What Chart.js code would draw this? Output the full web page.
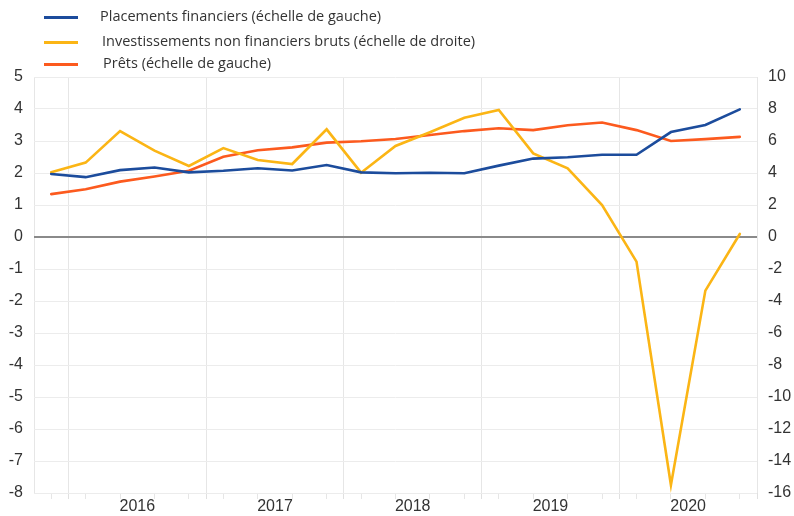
<!DOCTYPE html>
<html>
<head>
<meta charset="utf-8">
<script src="https://cdn.jsdelivr.net/npm/chart.js@4.4.1/dist/chart.umd.min.js"></script>
<style>
  html, body { margin: 0; padding: 0; background: #ffffff; }
  #wrap { position: relative; width: 794px; height: 516px; overflow: hidden; }
  #chart { position: absolute; left: 0; top: 0; }
  #legend { position: absolute; left: 0; top: 0; width: 794px; height: 80px;
            font-family: "Open Sans", "Noto Sans", sans-serif; font-size: 14.5px; color: #333333; }
  .sw { position: absolute; left: 44px; width: 34px; height: 3px; }
  .lt { position: absolute; white-space: nowrap; line-height: 20px; }
</style>
</head>
<body>
<div id="wrap">
  <canvas id="chart" width="794" height="516"></canvas>
  <div id="legend"></div>
</div>
<script>
// ---- Data (quarterly, 2015 Q4 – 2020 Q4) ----
const categories = [
  '2015T4',
  '2016T1', '2016T2', '2016T3', '2016T4',
  '2017T1', '2017T2', '2017T3', '2017T4',
  '2018T1', '2018T2', '2018T3', '2018T4',
  '2019T1', '2019T2', '2019T3', '2019T4',
  '2020T1', '2020T2', '2020T3', '2020T4'
];
// Placements financiers (échelle de gauche)
const placementsFinanciers = [
  1.97, 1.87, 2.09, 2.17, 2.02, 2.07, 2.15, 2.08, 2.25, 2.02, 1.99,
  2.01, 1.99, 2.23, 2.45, 2.49, 2.57, 2.57, 3.28, 3.50, 3.99
];
// Investissements non financiers bruts (échelle de droite)
const investissementsNonFinanciers = [
  4.04, 4.65, 6.62, 5.40, 4.44, 5.56, 4.81, 4.56, 6.73, 4.02, 5.69,
  6.55, 7.45, 7.94, 5.23, 4.29, 2.00, -1.54, -15.5, -3.35, 0.19
];
// Prêts (échelle de gauche)
const prets = [
  1.34, 1.49, 1.73, 1.89, 2.07, 2.51, 2.71, 2.80, 2.95, 2.99, 3.06,
  3.19, 3.31, 3.40, 3.34, 3.49, 3.58, 3.34, 3.00, 3.06, 3.13
];
const seriesLabels = [
  'Placements financiers (échelle de gauche)',
  'Investissements non financiers bruts (échelle de droite)',
  'Prêts (échelle de gauche)'
];
const yearLabels = ['2016', '2017', '2018', '2019', '2020'];
const leftTicks = [-8, -7, -6, -5, -4, -3, -2, -1, 0, 1, 2, 3, 4, 5];
const rightTicks = [-16, -14, -12, -10, -8, -6, -4, -2, 0, 2, 4, 6, 8, 10];

const colors = ['#1c4c9c', '#fbb515', '#fc5a1e'];

// ---- Year axis helpers (positions in category-index units) ----
const firstYearIdx = categories.indexOf('2016T1');
const yearBoundaries = [];
const yearCenters = [];
for (let k = 0; k <= yearLabels.length; k++) yearBoundaries.push(firstYearIdx + 4 * k - 0.5);
for (let k = 0; k < yearLabels.length; k++) yearCenters.push(firstYearIdx + 4 * k + 1.5);
const quarterCenters = categories.map((c, i) => i);
const leftEdge = -0.5;
const isIn = (arr, v) => arr.some(a => Math.abs(a - v) < 1e-6);

const xTickValues = [leftEdge].concat(quarterCenters, yearBoundaries, yearCenters)
  .sort((a, b) => a - b)
  .filter((v, i, a) => i === 0 || Math.abs(v - a[i - 1]) > 1e-6);

const ctx = document.getElementById('chart').getContext('2d');
const tickFont = { family: '"Liberation Sans", Arial, sans-serif', size: 16 };

const chart = new Chart(ctx, {
  type: 'line',
  data: {
    labels: categories,
    datasets: [
      { label: seriesLabels[0], data: placementsFinanciers, yAxisID: 'y', borderColor: colors[0], backgroundColor: colors[0] },
      { label: seriesLabels[1], data: investissementsNonFinanciers, yAxisID: 'y2', borderColor: colors[1], backgroundColor: colors[1] },
      { label: seriesLabels[2], data: prets, yAxisID: 'y', borderColor: colors[2], backgroundColor: colors[2] }
    ]
  },
  options: {
    responsive: false,
    animation: false,
    devicePixelRatio: 1,
    layout: { padding: { top: 77, left: 0, right: 0, bottom: 0 } },
    elements: {
      line: { borderWidth: 2.6, tension: 0, fill: false, borderCapStyle: 'round', borderJoinStyle: 'miter' },
      point: { radius: 0, hoverRadius: 0 }
    },
    plugins: { legend: { display: false }, tooltip: { enabled: false } },
    scales: {
      x: {
        type: 'category',
        display: false,
        offset: true
      },
      xYears: {
        type: 'linear',
        position: 'bottom',
        min: leftEdge,
        max: categories.length - 0.5,
        afterBuildTicks: (scale) => { scale.ticks = xTickValues.map(v => ({ value: v })); },
        afterFit: (scale) => { scale.height = 23; },
        border: { display: false },
        grid: {
          drawOnChartArea: true,
          drawTicks: true,
          tickLength: 6,
          lineWidth: 1,
          color: (c) => {
            const v = c.tick ? c.tick.value : null;
            if (v === null) return 'rgba(0,0,0,0)';
            if (isIn(yearBoundaries, v) || Math.abs(v - leftEdge) < 1e-6) return '#e6e6e6';
            return 'rgba(0,0,0,0)';
          },
          tickColor: (c) => {
            const v = c.tick ? c.tick.value : null;
            if (v === null) return 'rgba(0,0,0,0)';
            if (isIn(yearBoundaries, v)) return '#e0e0e0';
            if (isIn(quarterCenters, v)) return '#e6e6e6';
            return 'rgba(0,0,0,0)';
          }
        },
        ticks: {
          autoSkip: false,
          maxRotation: 0,
          minRotation: 0,
          padding: -2,
          color: '#333333',
          font: tickFont,
          callback: (v) => {
            const k = yearCenters.findIndex(c => Math.abs(c - v) < 1e-6);
            return k >= 0 ? yearLabels[k] : '';
          }
        }
      },
      y: {
        position: 'left',
        min: leftTicks[0],
        max: leftTicks[leftTicks.length - 1],
        afterBuildTicks: (scale) => { scale.ticks = leftTicks.map(v => ({ value: v })); },
        afterFit: (scale) => { scale.width = 34; },
        border: { display: false },
        grid: {
          drawTicks: false,
          color: (c) => (c.tick && c.tick.value === 0) ? '#8a8a8a' : '#ececec',
          lineWidth: (c) => (c.tick && c.tick.value === 0) ? 2 : 1
        },
        ticks: { color: '#333333', font: tickFont, padding: 11 }
      },
      y2: {
        position: 'right',
        min: rightTicks[0],
        max: rightTicks[rightTicks.length - 1],
        afterBuildTicks: (scale) => { scale.ticks = rightTicks.map(v => ({ value: v })); },
        afterFit: (scale) => { scale.width = 37; },
        border: { display: false },
        grid: { drawOnChartArea: false, drawTicks: false },
        ticks: { color: '#333333', font: tickFont, padding: 11 }
      }
    }
  }
});

// ---- HTML legend built from the chart's datasets ----
const legend = document.getElementById('legend');
const rowY = [17, 42, 64];
const textX = [100, 102, 103];
chart.data.datasets.forEach((ds, i) => {
  const sw = document.createElement('div');
  sw.className = 'sw';
  sw.style.top = (rowY[i] - 1.5) + 'px';
  sw.style.background = ds.borderColor;
  legend.appendChild(sw);
  const t = document.createElement('div');
  t.className = 'lt';
  t.style.left = textX[i] + 'px';
  t.style.top = (rowY[i] - 11) + 'px';
  t.textContent = ds.label;
  legend.appendChild(t);
});
</script>
</body>
</html>
